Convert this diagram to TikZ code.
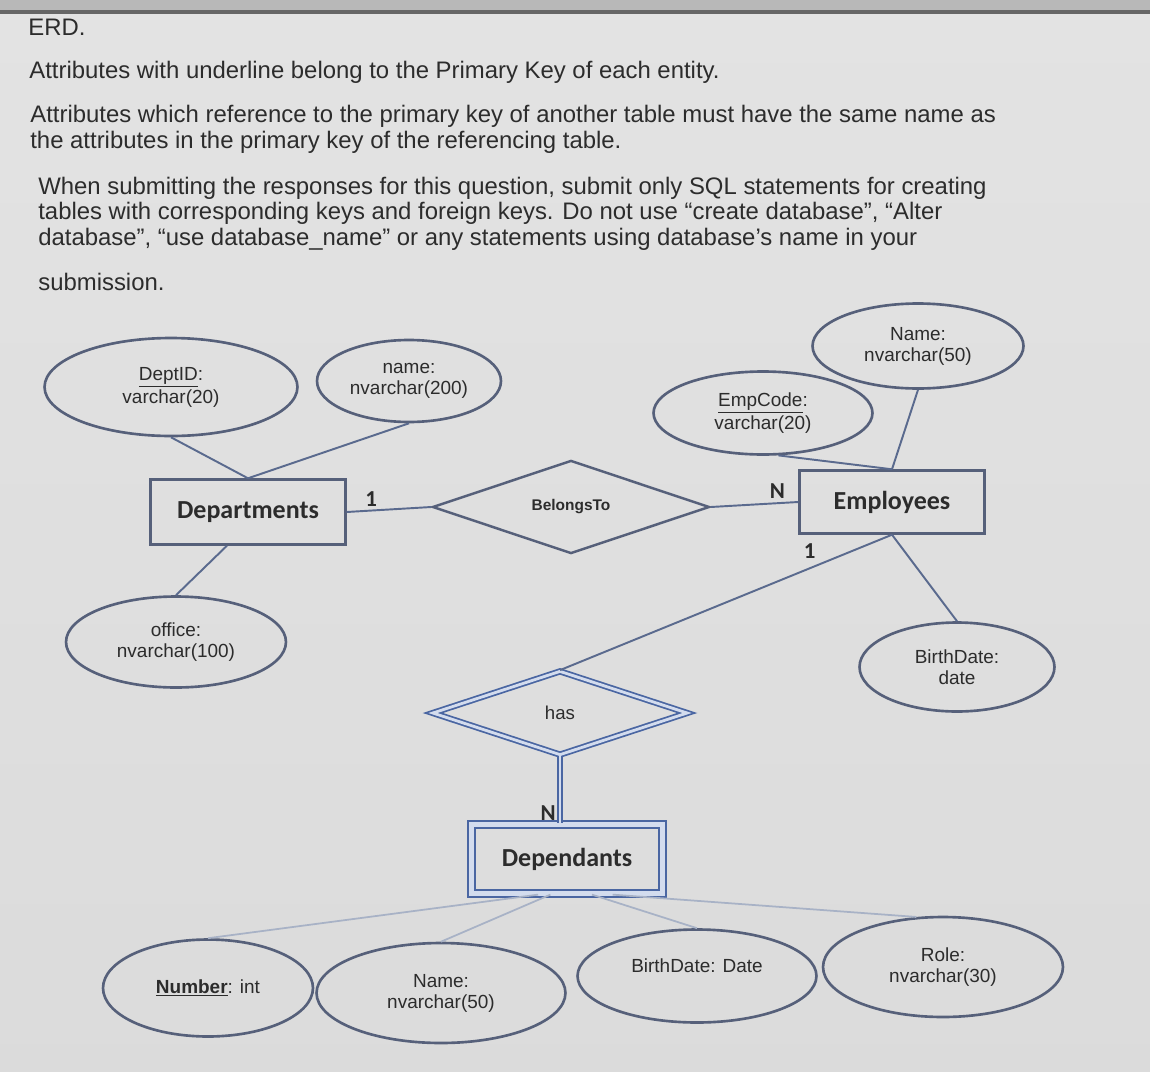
\documentclass[tikz,border=0pt]{standalone}
\usepackage{fontspec}
\setmainfont{Liberation Sans}
\newfontfamily\entityfont{Carlito}
\usepackage{tikz}
\usetikzlibrary{shapes.geometric, positioning, calc}
\usepackage{xcolor}
\definecolor{inkline}{HTML}{5A6A8E}
\definecolor{shapeline}{HTML}{56607A}
\definecolor{wkblue}{HTML}{4A66A2}
\definecolor{wkfill}{HTML}{D3DCEE}
\definecolor{txt}{HTML}{2C2C2C}
\definecolor{faint}{HTML}{A8B2C6}

\begin{document}
\begin{tikzpicture}[
    x=0.02cm, y=-0.02cm,
    note/.style = {anchor=base west, inner sep=0pt, align=left, text=txt, font=\fontsize{13.6}{14.5}\selectfont},
    entity/.style = {rectangle, draw=shapeline, line width=1.4pt, inner sep=0pt, text=txt, font=\entityfont\bfseries\fontsize{14.8}{16}\selectfont},
    weakentity/.style = {entity, draw=wkblue, double=wkfill, double distance=3pt, line width=1pt},
    attr/.style = {ellipse, draw=shapeline, line width=1.5pt, align=center, inner sep=0pt, text=txt, font=\fontsize{10.8}{12}\selectfont},
    rel/.style = {diamond, draw=shapeline, line width=1.4pt, inner sep=0pt, text=txt},
    weakrel/.style = {rel, draw=wkblue, double=wkfill, double distance=1.6pt, line width=1pt},
    link/.style = {draw=inkline, line width=1.1pt},
    weaklink/.style = {draw=wkblue, double=wkfill, double distance=1.6pt, line width=0.9pt},
    faintlink/.style = {draw=faint, line width=1pt},
    card/.style = {inner sep=2pt, text=txt, font=\entityfont\bfseries\fontsize{13}{14}\selectfont}
]

% Page background
\useasboundingbox (0,0) rectangle (1150,1072);
\shade [top color=black!11, middle color=black!5, bottom color=black!14] (0,0) rectangle (1150,1072);
\fill [black!28] (0,0) rectangle (1150,11);
\draw [black!60, line width=2pt] (0,12) -- (1150,12);

% Instructions
\node (erd) [note, at={(28,35)}] {ERD.};
\node (pknote) [note, at={(29,78)}] {Attributes with underline belong to the Primary Key of each entity.};
\node (fknote) [note, at={(30,148)}] {Attributes which reference to the primary key of another table must have the same name as\\the attributes in the primary key of the referencing table.};
\node (sqlnote) [note, at={(38,290)}] {When submitting the responses for this question, submit only SQL statements for creating\\tables with corresponding keys and foreign keys. Do not use “create database”, “Alter\\database”, “use database\_name” or any statements using database’s name in your\\[11pt]submission.};

% Entities
\node (dept) [entity, minimum width=3.9cm, minimum height=1.3cm, at={(248,512)}] {Departments};
\node (emp) [entity, minimum width=3.7cm, minimum height=1.26cm, at={(892,502)}] {Employees};
\node (dep) [weakentity, minimum width=3.83cm, minimum height=1.39cm, at={(567,859)}] {Dependants};

% Relationships
\node (belongs) [rel, minimum width=5.54cm, minimum height=1.74cm, font=\bfseries\fontsize{8.8}{10}\selectfont, at={(571,507)}] {BelongsTo};
\node (has) [weakrel, minimum width=5.1cm, minimum height=1.68cm, font=\fontsize{10.6}{12}\selectfont, at={(560,713)}] {has};

% Departments attributes
\node (deptid) [attr, minimum width=5.06cm, minimum height=1.96cm, at={(171,387)}] {\underline{DeptID}:\\varchar(20)};
\node (dname) [attr, minimum width=3.68cm, minimum height=1.64cm, at={(409,381)}] {name:\\nvarchar(200)};
\node (office) [attr, minimum width=4.4cm, minimum height=1.82cm, at={(176,642)}] {office:\\nvarchar(100)};

% Employees attributes
\node (empcode) [attr, minimum width=4.38cm, minimum height=1.66cm, at={(763,413)}] {\underline{EmpCode}:\\varchar(20)};
\node (empname) [attr, minimum width=4.22cm, minimum height=1.7cm, at={(918,346)}] {Name:\\nvarchar(50)};
\node (empbirth) [attr, minimum width=3.9cm, minimum height=1.78cm, at={(957,667)}] {BirthDate:\\date};

% Dependants attributes
\node (depnum) [attr, minimum width=4.2cm, minimum height=1.94cm, at={(208,988)}] {\underline{\textbf{Number}}: int};
\node (depname) [attr, minimum width=4.98cm, minimum height=2cm, at={(441,993)}] {Name:\\nvarchar(50)};
\node (depbirth) [attr, minimum width=4.78cm, minimum height=1.86cm, at={(697,976)}] {BirthDate: Date\\\mbox{}};
\node (deprole) [attr, minimum width=4.8cm, minimum height=2cm, at={(943,967)}] {Role:\\nvarchar(30)};

% Attribute links
\draw [link] (deptid.south) -- (dept.north);
\draw [link] (dname.south) -- (dept.north);
\draw [link] (dept.238) -- (office.north);
\draw [link] (empcode.-70) -- (emp.north);
\draw [link] (empname.south) -- (emp.north);
\draw [link] (emp.south) -- (empbirth.north);
\draw [faintlink] (dep.231) -- (depnum.north);
\draw [faintlink] (dep.245) -- (depname.north);
\draw [faintlink] (dep.305) -- (depbirth.north);
\draw [faintlink] (dep.322) -- (deprole.118);

% Relationship links
\draw [link] (dept.east) -- node[card, above, pos=0.29] (one1) {1} (belongs.west);
\draw [link] (belongs.east) -- node[card, above, pos=0.76] (many1) {N} (emp.west);
\draw [link] (has.north) -- (emp.south);
\node (one2) [card, below right=3pt and 1pt of emp.south west] {1};
\draw [weaklink] (has.south) -- node[card, left, pos=0.85] (many2) {N} (has.south |- dep.north);

\end{tikzpicture}
\end{document}
